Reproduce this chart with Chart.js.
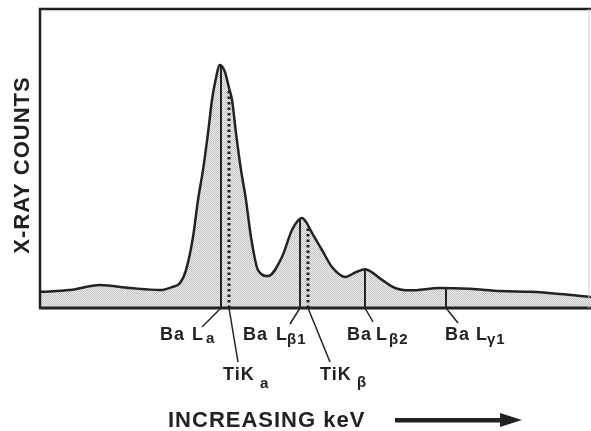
<!DOCTYPE html>
<html>
<head>
<meta charset="utf-8">
<script src="https://cdn.jsdelivr.net/npm/chart.js@4"></script>
<style>
  html, body { margin: 0; padding: 0; background: #fff; }
  #wrap { width: 591px; height: 431px; }
</style>
</head>
<body>
<div id="wrap"><canvas id="spectrum" width="591" height="431"></canvas></div>
<script>
// Spectrum: detector channel vs. relative X-ray counts
const channels = [0, 30, 60, 90, 120, 132, 140, 146, 153, 158, 163, 168, 172, 175, 180, 185, 189, 192, 196, 201, 206, 211, 218, 228,
  242, 252, 262, 266, 272, 282, 292, 305, 316, 325, 342, 355, 370, 400, 430, 460, 490, 520, 551];
const counts = [5.4, 6.0, 7.7, 6.7, 6.0, 7.0, 8.4, 12.7, 23.7, 36.1, 46.2, 58.5, 69.6, 75.3, 81.3, 78.9, 73.6, 69.6, 58.5, 46.2, 36.1, 23.7, 12.7, 10.7,
  17.1, 26.1, 30.1, 28.8, 25.1, 19.4, 13.7, 10.4, 12.0, 13.0, 9.4, 6.7, 5.9, 6.7, 6.4, 5.7, 5.4, 4.7, 3.7];

// Emission lines marked under the spectrum: [main text, second part, subscript]
const lineNames = [['Ba', 'L', 'a'], ['TiK', '', 'a'], ['Ba', 'L', '\u03b21'], ['TiK', '', '\u03b2'], ['Ba', 'L', '\u03b22'], ['Ba', 'L', '\u03b31']];
const lineChannels = [181, 189, 260, 268, 325, 406];
const lineTops = [81.0, 73.2, 29.9, 26.8, 13.0, 6.7];
const lineDotted = [false, true, false, true, false, false];

const xTitle = 'INCREASING keV';
const yTitle = 'X-RAY COUNTS';

const ink = '#222';
const font = '"Liberation Sans", Arial, Helvetica, sans-serif';

// label placement relative to where each line meets the axis
const labelPos = [
  { lx: -19, ly: 19, tx: -61, ty: 32, lOff: 32, sOff: 46, sy: 3 },
  { lx: 9, ly: 54, tx: -6, ty: 72, lOff: 0, sOff: 37, sy: 8 },
  { lx: -10, ly: 16, tx: -57, ty: 32, lOff: 33, sOff: 44, sy: 4 },
  { lx: 22, ly: 54, tx: 12, ty: 72, lOff: 0, sOff: 37, sy: 7 },
  { lx: 8, ly: 14, tx: -18, ty: 32, lOff: 29, sOff: 42, sy: 4 },
  { lx: 12, ly: 15, tx: -1, ty: 32, lOff: 31, sOff: 42, sy: 4 }
];

// fine stippled grey fill like the printed screen
function makeStipple() {
  const c = document.createElement('canvas');
  c.width = 2; c.height = 2;
  const g = c.getContext('2d');
  g.fillStyle = '#ededed';
  g.fillRect(0, 0, 2, 2);
  g.fillStyle = '#c2c2c2';
  g.fillRect(0, 0, 1, 1);
  g.fillRect(1, 1, 1, 1);
  return g.createPattern(c, 'repeat');
}
const stipple = makeStipple();

const datasets = lineChannels.map((ch, i) => ({
  data: [{ x: ch, y: 0 }, { x: ch, y: lineTops[i] }],
  borderColor: ink,
  borderWidth: lineDotted[i] ? 3 : 2,
  borderDash: lineDotted[i] ? [2.5, 3] : [],
  pointRadius: 0,
  fill: false,
  order: 1
}));
datasets.push({
  data: channels.map((ch, i) => ({ x: ch, y: counts[i] })),
  borderColor: ink,
  borderWidth: 2.5,
  backgroundColor: stipple,
  fill: 'origin',
  pointRadius: 0,
  cubicInterpolationMode: 'monotone',
  order: 2
});

const decorations = {
  id: 'decorations',
  afterDatasetsDraw(chart) {
    const { ctx, chartArea: a, scales } = chart;
    ctx.save();
    // frame
    ctx.strokeStyle = ink;
    ctx.lineWidth = 2.5;
    ctx.beginPath();
    ctx.moveTo(a.right, a.top);
    ctx.lineTo(a.left, a.top);
    ctx.lineTo(a.left, a.bottom);
    ctx.stroke();
    ctx.lineWidth = 3;
    ctx.beginPath();
    ctx.moveTo(a.left - 1, a.bottom);
    ctx.lineTo(a.right, a.bottom);
    ctx.stroke();
    ctx.strokeStyle = '#ccc';
    ctx.lineWidth = 1;
    ctx.beginPath();
    ctx.moveTo(a.right - 2, a.top);
    ctx.lineTo(a.right - 2, a.bottom);
    ctx.stroke();

    // line labels with leaders
    ctx.fillStyle = ink;
    ctx.strokeStyle = ink;
    ctx.lineWidth = 1.5;
    ctx.textBaseline = 'alphabetic';
    ctx.textAlign = 'left';
    lineNames.forEach((parts, i) => {
      const px = scales.x.getPixelForValue(lineChannels[i]);
      const base = a.bottom;
      const p = labelPos[i];
      ctx.beginPath();
      ctx.moveTo(px, base);
      ctx.lineTo(px + p.lx, base + p.ly);
      ctx.stroke();
      const tx = px + p.tx, ty = base + p.ty;
      ctx.font = 'bold 18px ' + font;
      ctx.letterSpacing = '1px';
      ctx.fillText(parts[0], tx, ty);
      if (parts[1]) ctx.fillText(parts[1], tx + p.lOff, ty);
      ctx.font = 'bold 15px ' + font;
      ctx.letterSpacing = '1px';
      ctx.fillText(parts[2], tx + p.sOff, ty + p.sy);
    });

    // axis titles
    ctx.font = 'bold 22px ' + font;
    ctx.letterSpacing = '1px';
    ctx.textAlign = 'left';
    ctx.fillText(xTitle, 168, 427);
    ctx.save();
    ctx.translate(29, 165);
    ctx.rotate(-Math.PI / 2);
    ctx.textAlign = 'center';
    ctx.fillText(yTitle, 0, 0);
    ctx.restore();
    ctx.letterSpacing = '0px';

    // arrow
    ctx.fillStyle = ink;
    ctx.fillRect(395, 418, 108, 4.5);
    ctx.beginPath();
    ctx.moveTo(500, 413);
    ctx.lineTo(522, 420);
    ctx.lineTo(500, 427);
    ctx.closePath();
    ctx.fill();
    ctx.restore();
  }
};

new Chart(document.getElementById('spectrum'), {
  type: 'line',
  data: { datasets },
  options: {
    responsive: false,
    animation: false,
    layout: { padding: { left: 40, top: 9, right: 0, bottom: 123 } },
    scales: {
      x: { type: 'linear', min: 0, max: 551, display: false },
      y: { min: 0, max: 100, display: false }
    },
    plugins: { legend: { display: false }, tooltip: { enabled: false } }
  },
  plugins: [decorations]
});
</script>
</body>
</html>
